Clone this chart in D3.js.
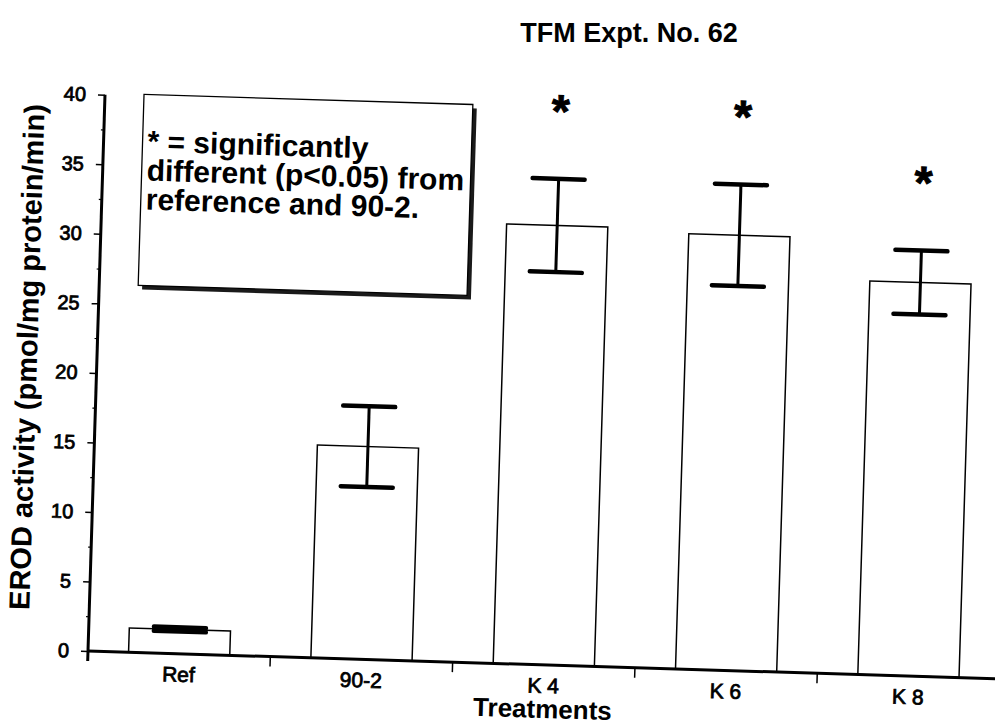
<!DOCTYPE html>
<html>
<head>
<meta charset="utf-8">
<script src="https://cdn.jsdelivr.net/npm/d3@7"></script>
<style>
  body { margin: 0; background: #fff; }
  svg { display: block; font-family: "Liberation Sans", Arial, sans-serif; }
</style>
</head>
<body>
<svg id="chart" width="995" height="726"></svg>
<script>
// values
var categories = ["Ref", "90-2", "K 4", "K 6", "K 8"];
var means = [1.75, 15.3, 31.6, 31.3, 28.3];
var errors = [0.15, 2.9, 3.35, 3.65, 2.3];
var significant = [false, false, true, true, true];
var yTicks = [0, 5, 10, 15, 20, 25, 30, 35, 40];
var yMinorTicks = [2.5, 7.5, 12.5, 17.5, 22.5, 27.5, 32.5, 37.5];
var legendLines = ["* = significantly", "different (p<0.05) from", "reference and 90-2."];

var data = categories.map(function(c, i){
    return {name: c, mean: means[i], err: errors[i], sig: significant[i]};
});

var svg = d3.select("svg#chart");

svg.append("text")
    .attr("x", 629).attr("y", 42)
    .attr("text-anchor", "middle")
    .style("font-size", "27px").style("font-weight", "bold")
    .text("TFM Expt. No. 62");

// the scan is a little tilted, so the whole plot is turned with it
var g = svg.append("g").attr("transform", "translate(88,651) rotate(1.75)");

var x = d3.scaleBand().domain(categories).range([0, 912])
    .paddingInner(0.445).paddingOuter(0.2225);
var y = d3.scaleLinear().domain([0, 40]).range([0, -556.5]);

// legend box with shadow
g.append("rect").attr("x", 43).attr("y", -554).attr("width", 329).attr("height", 191)
    .attr("fill", "#1a1a1a");
g.append("rect").attr("x", 39).attr("y", -558).attr("width", 329).attr("height", 191)
    .attr("fill", "#fff").attr("stroke", "#000").attr("stroke-width", 1.3);
g.selectAll("text.legend")
    .data(legendLines)
    .enter()
    .append("text")
    .attr("class", "legend")
    .attr("x", 44)
    .attr("y", function(d, i){return -501 + i * 29})
    .style("font-size", "30px").style("font-weight", "bold")
    .text(function(d){return d});

// bars
g.selectAll("rect.bar")
    .data(data)
    .enter()
    .append("rect")
    .attr("class", "bar")
    .attr("x", function(d){return x(d.name)})
    .attr("y", function(d){return y(d.mean)})
    .attr("width", x.bandwidth())
    .attr("height", function(d){return y(0) - y(d.mean)})
    .attr("fill", "#fff").attr("stroke", "#000").attr("stroke-width", 1.5);

// error bars
var eb = g.selectAll("g.err").data(data).enter().append("g").attr("class", "err")
    .attr("transform", function(d){return "translate(" + (x(d.name) + x.bandwidth() / 2) + ",0)"});
eb.append("line")
    .attr("y1", function(d){return y(d.mean - d.err)})
    .attr("y2", function(d){return y(d.mean + d.err)})
    .attr("stroke", "#000").attr("stroke-width", 3);
eb.selectAll("line.cap")
    .data(function(d){return [d.mean - d.err, d.mean + d.err]})
    .enter()
    .append("line")
    .attr("class", "cap")
    .attr("x1", -26).attr("x2", 26)
    .attr("y1", function(v){return y(v)}).attr("y2", function(v){return y(v)})
    .attr("stroke", "#000").attr("stroke-width", 4.5).attr("stroke-linecap", "round");

// significance stars
g.selectAll("text.star")
    .data(data.filter(function(d){return d.sig}))
    .enter()
    .append("text")
    .attr("class", "star")
    .attr("x", function(d){return x(d.name) + x.bandwidth() / 2})
    .attr("y", function(d){return y(d.mean + d.err) - 78 + 26})
    .attr("text-anchor", "middle")
    .attr("stroke", "#000").attr("stroke-width", 1)
    .style("font-size", "46px").style("font-weight", "bold")
    .text("*");

// y axis
var yAxis = g.append("g").call(d3.axisLeft(y).tickValues(yTicks).tickSize(7).tickPadding(12));
yAxis.select(".domain").remove();
yAxis.selectAll(".tick line").attr("stroke-width", 1.5);
yAxis.selectAll(".tick text")
    .style("font-size", "20px").style("font-family", "Liberation Sans, Arial, sans-serif")
    .attr("fill", "#000").attr("stroke", "#000").attr("stroke-width", 0.8);
var yMinor = g.append("g").call(d3.axisLeft(y).tickValues(yMinorTicks).tickSize(3).tickFormat(""));
yMinor.select(".domain").remove();
yMinor.selectAll(".tick line").attr("stroke-width", 1.2);
g.append("line").attr("x1", 0).attr("x2", 0).attr("y1", 10).attr("y2", y(40))
    .attr("stroke", "#000").attr("stroke-width", 3);

// x axis: line, ticks between groups, labels under bars
g.append("line").attr("x1", 0).attr("x2", 912).attr("y1", 0).attr("y2", 0)
    .attr("stroke", "#000").attr("stroke-width", 3);
g.selectAll("line.xtick")
    .data(d3.range(1, categories.length))
    .enter()
    .append("line")
    .attr("class", "xtick")
    .attr("x1", function(i){return x.step() * i}).attr("x2", function(i){return x.step() * i})
    .attr("y1", 0).attr("y2", 10)
    .attr("stroke", "#000").attr("stroke-width", 1.5);
var xAxis = g.append("g").call(d3.axisBottom(x).tickSize(0).tickPadding(0));
xAxis.select(".domain").remove();
xAxis.selectAll(".tick text")
    .attr("y", 28).attr("dy", null)
    .style("font-size", "21px").style("font-family", "Liberation Sans, Arial, sans-serif")
    .attr("fill", "#000").attr("stroke", "#000").attr("stroke-width", 0.8);

// axis titles
g.append("text")
    .attr("x", 456).attr("y", 53)
    .attr("text-anchor", "middle")
    .style("font-size", "26px").style("font-weight", "bold")
    .text("Treatments");
g.append("text")
    .attr("transform", "rotate(-90)")
    .attr("x", 292).attr("y", -60)
    .attr("text-anchor", "middle")
    .style("font-size", "29px").style("font-weight", "bold")
    .text("EROD activity (pmol/mg protein/min)");
</script>
</body>
</html>
